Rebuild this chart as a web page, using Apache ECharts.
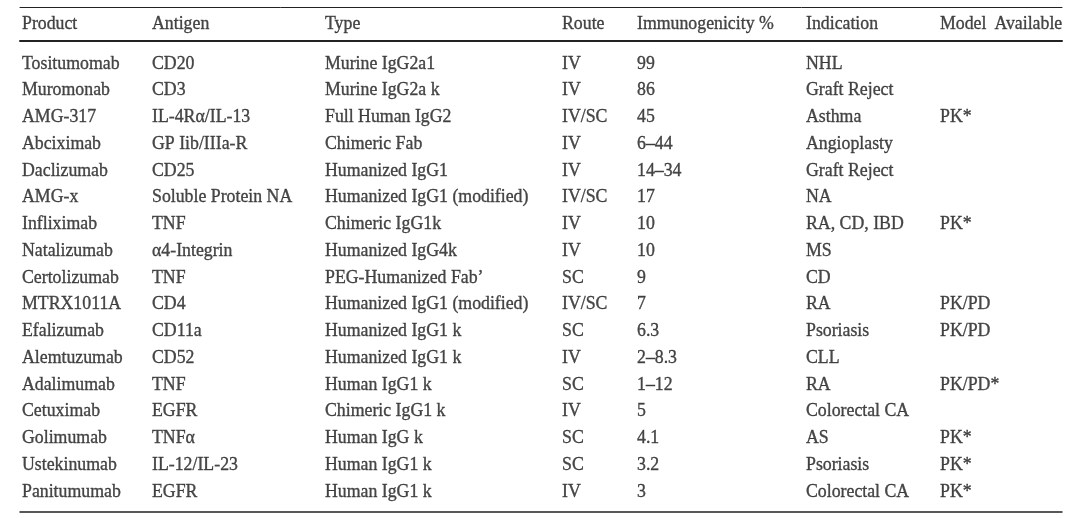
<!DOCTYPE html>
<html>
<head>
<meta charset="utf-8">
<script src="https://cdn.jsdelivr.net/npm/echarts@6/dist/echarts.min.js"></script>
<style>html,body{margin:0;padding:0;background:#fff}#c{width:1080px;height:518px}</style>
</head>
<body>
<div id="c"></div>
<script>
// ---- data ----
const headers = ['Product','Antigen','Type','Route','Immunogenicity %','Indication','Model Available'];
const products = ['Tositumomab','Muromonab','AMG-317','Abciximab','Daclizumab','AMG-x','Infliximab','Natalizumab','Certolizumab','MTRX1011A','Efalizumab','Alemtuzumab','Adalimumab','Cetuximab','Golimumab','Ustekinumab','Panitumumab'];
const antigens = ['CD20','CD3','IL-4R\u03b1/IL-13','GP Iib/IIIa-R','CD25','Soluble Protein NA','TNF','\u03b14-Integrin','TNF','CD4','CD11a','CD52','TNF','EGFR','TNF\u03b1','IL-12/IL-23','EGFR'];
const types = ['Murine IgG2a1','Murine IgG2a k','Full Human IgG2','Chimeric Fab','Humanized IgG1','Humanized IgG1 (modified)','Chimeric IgG1k','Humanized IgG4k','PEG-Humanized Fab\u2019','Humanized IgG1 (modified)','Humanized IgG1 k','Humanized IgG1 k','Human IgG1 k','Chimeric IgG1 k','Human IgG k','Human IgG1 k','Human IgG1 k'];
const routes = ['IV','IV','IV/SC','IV','IV','IV/SC','IV','IV','SC','IV/SC','SC','IV','SC','IV','SC','SC','IV'];
const immunogenicity = ['99','86','45','6\u201344','14\u201334','17','10','10','9','7','6.3','2\u20138.3','1\u201312','5','4.1','3.2','3'];
const indications = ['NHL','Graft Reject','Asthma','Angioplasty','Graft Reject','NA','RA, CD, IBD','MS','CD','RA','Psoriasis','CLL','RA','Colorectal CA','AS','Psoriasis','Colorectal CA'];
const models = ['','','PK*','','','','PK*','','','PK/PD','PK/PD','','PK/PD*','','PK*','PK*','PK*'];

// ---- layout ----
const columns = [products, antigens, types, routes, immunogenicity, indications, models];
const colX = [22, 152, 325, 562, 637, 806, 940];
const FONT = 'Liberation Serif, Times New Roman, serif';
const FS = 17.8;
const TXT = '#1a1a1a';
const RULE = '#222';

const chart = echarts.init(document.getElementById('c'), null, {renderer:'canvas'});

const textLabel = {
  show: true, position: 'right', distance: 0,
  color: TXT, fontFamily: FONT, fontSize: FS, align: 'left', verticalAlign: 'middle',
  textBorderColor: TXT, textBorderWidth: 0.35
};

const series = [];
series.push({
  type: 'scatter', xAxisIndex: 0, yAxisIndex: 0, symbolSize: 0, silent: true,
  data: headers.map((h, c) => ({value: [colX[c], 0], name: h})),
  label: Object.assign({}, textLabel, {formatter: p => p.name.replace('Model Available', 'Model\u2009 Available')})
});
columns.forEach((col, c) => {
  series.push({
    type: 'scatter', xAxisIndex: 2, yAxisIndex: 1, symbolSize: 0, silent: true,
    data: col.map((t, i) => ({value: [colX[c], i], name: t})),
    label: Object.assign({}, textLabel, {formatter: p => p.name})
  });
});

const xBase = {type: 'value', min: 20, max: 1062, splitLine: {show:false}, axisTick:{show:false}, axisLabel:{show:false}};
const line = (w) => ({show: true, onZero: false, lineStyle: {color: RULE, width: w}});

chart.setOption({
  animation: false,
  grid: [
    {left: 20, right: 18, top: 7, height: 34},
    {left: 20, right: 18, top: 50.625, height: 461.4375}
  ],
  xAxis: [
    Object.assign({}, xBase, {gridIndex: 0, position: 'top', axisLine: line(1)}),
    Object.assign({}, xBase, {gridIndex: 0, position: 'bottom', axisLine: line(2)}),
    Object.assign({}, xBase, {gridIndex: 1, position: 'bottom', axisLine: line(1.5)})
  ],
  yAxis: [
    {type: 'value', gridIndex: 0, inverse: true, min: -0.5, max: 0.5, show: false},
    {type: 'value', gridIndex: 1, inverse: true, min: -0.5, max: 16.75, show: false}
  ],
  series: series
});
</script>
</body>
</html>
